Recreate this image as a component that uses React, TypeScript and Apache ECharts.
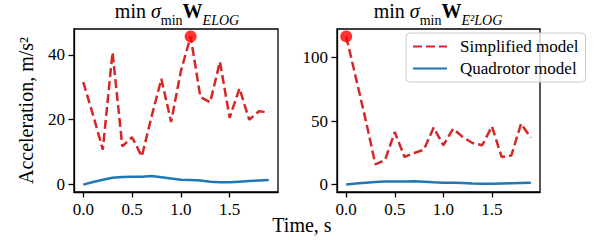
import React, { useEffect, useRef } from "react";
import * as echarts from "echarts";

const time = [0, 0.1, 0.2, 0.3, 0.4, 0.5, 0.6, 0.7, 0.8, 0.9, 1.0, 1.1, 1.2, 1.3, 1.4, 1.5, 1.6, 1.7, 1.8, 1.9];
const simplifiedELOG = [31.6, 21.5, 10.8, 40.8, 11.8, 14.6, 8.7, 21, 32.6, 19.3, 35, 45.7, 27, 25.4, 37.9, 20.6, 29.7, 20, 22.6, 22.3];
const quadrotorELOG = [0, 0.8, 1.5, 2.1, 2.35, 2.45, 2.45, 2.65, 2.25, 1.85, 1.5, 1.45, 1.25, 0.9, 0.7, 0.7, 0.9, 1.1, 1.25, 1.4];
const simplifiedE2LOG = [116.8, 84, 51, 16, 19.5, 41.4, 21.8, 24.9, 27.5, 44.9, 31, 44, 37.5, 32.8, 31, 45.9, 21.8, 23, 48, 37];
const quadrotorE2LOG = [0, 0.8, 1.5, 2.1, 2.35, 2.45, 2.45, 2.65, 2.25, 1.85, 1.5, 1.45, 1.25, 0.9, 0.7, 0.7, 0.9, 1.1, 1.25, 1.4];
const xTicks = [0, 0.5, 1.0, 1.5];
const yTicksELOG = [0, 20, 40];
const yTicksE2LOG = [0, 50, 100];
const seriesNames = ["Simplified model", "Quadrotor model"];

const FONT = "'Liberation Serif', serif";
const RED = "#d62728";
const BLUE = "#1f77b4";

function pairs(ys: number[]) {
  return time.map((t, i) => [t, ys[i]]);
}
function peak(ys: number[]) {
  let k = 0;
  ys.forEach((v, i) => { if (v > ys[k]) k = i; });
  return [[time[k], ys[k]]];
}
function pad(vals: number[][]) {
  const all = vals.flat();
  const lo = Math.min(...all), hi = Math.max(...all);
  const m = (hi - lo) * 0.05;
  return [lo - m, hi + m];
}

export default function App() {
  const ref = useRef<HTMLDivElement>(null);
  useEffect(() => {
    if (!ref.current) return;
    const chart = echarts.init(ref.current, null, { renderer: "svg" });
    const span = time[time.length - 1] - time[0];
    const xr = [time[0] - span * 0.05, time[time.length - 1] + span * 0.05];
    const y1 = pad([simplifiedELOG, quadrotorELOG]);
    const y2 = pad([simplifiedE2LOG, quadrotorE2LOG]);

    const serif = (size: number) => ({ fontFamily: FONT, fontSize: size, color: "#000", fontWeight: "normal" });

    const grids = [
      { left: 74, top: 29, width: 204, height: 163 },
      { left: 337, top: 29, width: 203, height: 163 },
    ];
    const mkX = (gi: number) => ({
      type: "value", gridIndex: gi, min: xr[0], max: xr[1],
      splitLine: { show: false },
      axisLine: { show: true, onZero: false, lineStyle: { color: "#000", width: 1.3 } },
      axisTick: { show: true, length: 5.5, lineStyle: { color: "#000", width: 1.3 }, customValues: xTicks },
      axisLabel: { customValues: xTicks, formatter: (v: number) => v.toFixed(1), ...serif(17), margin: 9 },
    });
    const mkY = (gi: number, r: number[], ticks: number[], name?: string) => ({
      type: "value", gridIndex: gi, min: r[0], max: r[1],
      splitLine: { show: false },
      axisLine: { show: true, onZero: false, lineStyle: { color: "#000", width: 1.3 } },
      axisTick: { show: true, length: 5.5, lineStyle: { color: "#000", width: 1.3 }, customValues: ticks },
      axisLabel: { customValues: ticks, formatter: (v: number) => String(Math.round(v)), ...serif(17), margin: 9 },
      name: name,
      nameLocation: "middle",
      nameGap: 38,
      nameTextStyle: serif(20),
    });
    const base = { fontFamily: FONT, color: "#000", fontWeight: "normal", verticalAlign: "bottom" };
    const titleRich = {
      a: { ...base, fontSize: 20, padding: [0, 0, 6, 0], lineHeight: 22 },
      b: { ...base, fontSize: 20, fontStyle: "italic", padding: [0, 0, 6, 0], lineHeight: 22 },
      c: { ...base, fontSize: 14, lineHeight: 16 },
      d: { ...base, fontSize: 20, fontWeight: "bold", padding: [0, 0, 6, 0], lineHeight: 22 },
      e: { ...base, fontSize: 14, fontStyle: "italic", lineHeight: 16 },
    };
    const titleStyle = { ...serif(20), rich: titleRich };

    const lineSeries = (name: string, gi: number, ys: number[], color: string, dashed: boolean) => ({
      type: "line", name, xAxisIndex: gi, yAxisIndex: gi, data: pairs(ys),
      showSymbol: false, symbol: "none", z: dashed ? 3 : 2,
      itemStyle: { color },
      lineStyle: { color, width: 2.5, type: dashed ? [9, 4] : "solid" },
    });

    chart.setOption({
      animation: false,
      backgroundColor: "#fff",
      textStyle: { fontFamily: FONT },
      title: [
        { text: "{a|min }{b|σ}{c|min}{d|W}{e|ELOG}", left: 177, top: 5, textAlign: "center", padding: 0, textStyle: titleStyle },
        { text: "{a|min }{b|σ}{c|min}{d|W}{e|E²LOG}", left: 438, top: 5, textAlign: "center", padding: 0, textStyle: titleStyle },
        { text: "Time, s", left: 302, top: 215, textAlign: "center", padding: 0, textStyle: serif(20) },
      ],
      grid: grids.map((g) => ({ ...g, show: true, borderColor: "#000", borderWidth: 1.3, backgroundColor: "transparent", containLabel: false })),
      xAxis: [mkX(0), mkX(1)],
      yAxis: [mkY(0, y1, yTicksELOG, "Acceleration, m/s²"), mkY(1, y2, yTicksE2LOG)],
      legend: {
        data: seriesNames,
        orient: "vertical",
        left: 406, top: 33,
        padding: [5, 7, 5, 6],
        itemGap: 5,
        itemWidth: 34, itemHeight: 14,
        backgroundColor: "rgba(255,255,255,0.8)",
        borderColor: "#cccccc", borderWidth: 1, borderRadius: 4,
        textStyle: { ...serif(17), padding: [0, 0, 0, 8] },
        itemStyle: { opacity: 0 },
        z: 10,
      },
      series: [
        lineSeries(seriesNames[0], 0, simplifiedELOG, RED, true),
        lineSeries(seriesNames[1], 0, quadrotorELOG, BLUE, false),
        lineSeries(seriesNames[0], 1, simplifiedE2LOG, RED, true),
        lineSeries(seriesNames[1], 1, quadrotorE2LOG, BLUE, false),
        { type: "scatter", xAxisIndex: 0, yAxisIndex: 0, data: peak(simplifiedELOG), symbolSize: 12, itemStyle: { color: "#ff0000" }, z: 5 },
        { type: "scatter", xAxisIndex: 1, yAxisIndex: 1, data: peak(simplifiedE2LOG), symbolSize: 12, itemStyle: { color: "#ff0000" }, z: 5 },
      ],
    });
    return () => chart.dispose();
  }, []);
  return <div ref={ref} style={{ width: 600, height: 240, position: "absolute", left: 0, top: 0 }} />;
}
